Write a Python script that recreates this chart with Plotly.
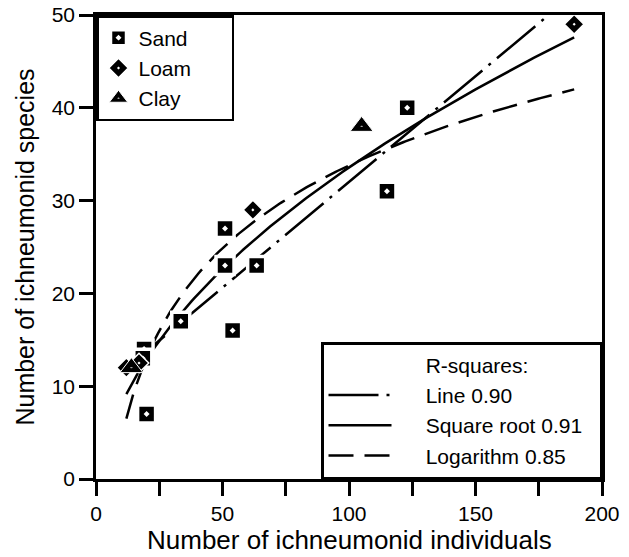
import numpy as np
import plotly.graph_objects as go

# ---- data ----
sand_x = [19, 18.5, 20, 33.5, 51, 51, 54, 63.5, 115, 123]
sand_y = [14, 13, 7, 17, 27, 23, 16, 23, 31, 40]
loam_x = [12, 17, 62, 189]
loam_y = [12, 12.5, 29, 49]
clay_x = [14, 105]
clay_y = [12, 38]

fit_labels = ["Line 0.90", "Square root 0.91", "Logarithm 0.85"]
x_ticks = [0, 50, 100, 150, 200]
y_ticks = [0, 10, 20, 30, 40, 50]
x_title = "Number of ichneumonid individuals"
y_title = "Number of ichneumonid species"

# ---- regressions through all points ----
all_x = np.array(sand_x + loam_x + clay_x, dtype=float)
all_y = np.array(sand_y + loam_y + clay_y, dtype=float)
xs = np.linspace(all_x.min(), all_x.max(), 200)
b_lin = np.polyfit(all_x, all_y, 1)
b_sqrt = np.polyfit(np.sqrt(all_x), all_y, 1)
b_log = np.polyfit(np.log(all_x), all_y, 1)
y_lin = np.polyval(b_lin, xs)
y_sqrt = np.polyval(b_sqrt, np.sqrt(xs))
y_log = np.polyval(b_log, np.log(xs))

FONT = "Liberation Sans, Arial, Helvetica, sans-serif"
NB = "\u00a0"
PRE = NB * 5
POST = NB * 2

fig = go.Figure()

# header entry for the second legend
fig.add_trace(go.Scatter(x=[None], y=[None], mode="lines", name=PRE + "R-squares:",
                         line=dict(color="rgba(0,0,0,0)", width=0),
                         legend="legend2", showlegend=True, hoverinfo="skip"))
fig.add_trace(go.Scatter(x=xs, y=y_lin, mode="lines", name=PRE + fit_labels[0],
                         line=dict(color="black", width=2.5, dash="50px,8px,3px,8px"),
                         legend="legend2"))
fig.add_trace(go.Scatter(x=xs, y=y_sqrt, mode="lines", name=PRE + fit_labels[1] + POST,
                         line=dict(color="black", width=2.5),
                         legend="legend2"))
fig.add_trace(go.Scatter(x=xs, y=y_log, mode="lines", name=PRE + fit_labels[2],
                         line=dict(color="black", width=2.5, dash="25px,11px"),
                         legend="legend2"))

fig.add_trace(go.Scatter(x=sand_x, y=sand_y, mode="markers", name="Sand",
                         marker=dict(symbol="square-dot", size=18, color="black",
                                     line=dict(color="white", width=3.5)),
                         legend="legend", cliponaxis=False))
fig.add_trace(go.Scatter(x=loam_x, y=loam_y, mode="markers", name="Loam" + NB * 6,
                         marker=dict(symbol="diamond-dot", size=15, color="black",
                                     line=dict(color="white", width=1.5)),
                         legend="legend", cliponaxis=False))
fig.add_trace(go.Scatter(x=clay_x, y=clay_y, mode="markers", name="Clay",
                         marker=dict(symbol="triangle-up-dot", size=20, color="black",
                                     line=dict(color="white", width=1)),
                         legend="legend", cliponaxis=False))

axis_common = dict(showgrid=False, zeroline=False, showline=True, linecolor="black",
                   linewidth=2.5, mirror=True, ticks="outside", ticklen=14,
                   tickwidth=2.5, tickcolor="black", automargin=False,
                   tickfont=dict(family=FONT, size=21, color="black"))

fig.update_layout(
    width=629, height=557,
    margin=dict(l=96, r=27, t=15, b=78),
    paper_bgcolor="white", plot_bgcolor="white",
    font=dict(family=FONT, size=21, color="black"),
    xaxis=dict(range=[0, 200], tickvals=x_ticks,
               minor=dict(dtick=25, ticks="outside", ticklen=14, tickwidth=2.5,
                          tickcolor="black"),
               **axis_common),
    yaxis=dict(range=[0, 50], tickvals=y_ticks,
               title=dict(text=y_title, font=dict(family=FONT, size=25), standoff=10),
               **axis_common),
    legend=dict(x=0, y=1, xanchor="left", yanchor="top",
                bgcolor="white", bordercolor="black", borderwidth=2.5,
                font=dict(family=FONT, size=21), tracegroupgap=0,
                itemsizing="trace"),
    legend2=dict(x=1, y=0, xanchor="right", yanchor="bottom",
                 bgcolor="white", bordercolor="black", borderwidth=2.5,
                 font=dict(family=FONT, size=21), itemwidth=63,
                 tracegroupgap=0),
    showlegend=True,
    annotations=[dict(text=x_title, xref="paper", yref="paper", x=0.5, y=0,
                      xanchor="center", yanchor="bottom", yshift=-78,
                      showarrow=False, font=dict(family=FONT, size=26, color="black"))],
)

fig.write_html("out.html",
               config={"displayModeBar": False},
               post_script="document.body.style.margin='0';document.body.style.padding='0';")
